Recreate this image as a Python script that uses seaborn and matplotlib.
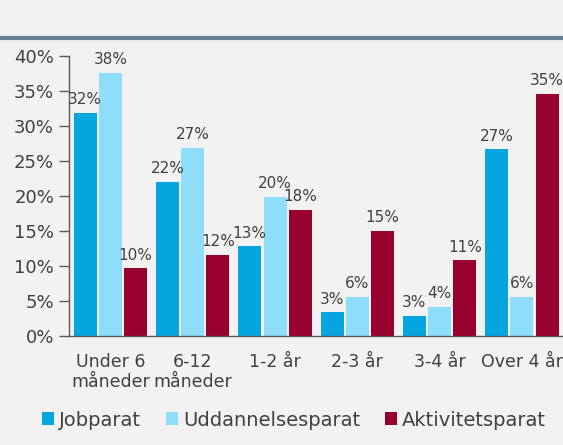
import matplotlib
matplotlib.use("Agg")
import matplotlib.pyplot as plt
import seaborn as sns
import pandas as pd
from matplotlib.patches import Patch
from matplotlib.lines import Line2D

categories = ["Under 6\nmåneder", "6-12\nmåneder", "1-2 år", "2-3 år", "3-4 år", "Over 4 år"]
series_names = ["Jobparat", "Uddannelsesparat", "Aktivitetsparat"]
jobparat = [31.9, 22.0, 12.8, 3.4, 2.9, 26.7]
uddannelsesparat = [37.6, 26.9, 19.9, 5.6, 4.2, 5.6]
aktivitetsparat = [9.7, 11.6, 18.0, 15.0, 10.8, 34.6]
y_ticks = [0, 5, 10, 15, 20, 25, 30, 35, 40]
colors = ["#05A5E0", "#8EDDFB", "#98002E"]

rows = []
for name, vals in zip(series_names, [jobparat, uddannelsesparat, aktivitetsparat]):
    for c, v in zip(categories, vals):
        rows.append({"Kategori": c, "Serie": name, "Andel": v})
df = pd.DataFrame(rows)

sns.set_theme(style="white")
plt.rcParams["font.family"] = ["DejaVu Sans Condensed", "DejaVu Sans"]
txt = "#404040"
bg = "#F2F2F2"

fig = plt.figure(figsize=(5.63, 4.45), dpi=100, facecolor=bg)
ax = fig.add_axes([0.1231, 0.2449, 0.877, 0.6292])
ax.set_facecolor(bg)

sns.barplot(data=df, x="Kategori", y="Andel", hue="Serie", order=categories,
            hue_order=series_names, palette=colors, width=0.92, gap=0.087,
            ax=ax, legend=False, saturation=1, edgecolor="none")

for cont in ax.containers:
    ax.bar_label(cont, fmt="%.0f%%", padding=4, color=txt, fontsize=11)

ax.set_ylim(0, 40)
ax.set_xlim(-0.5, 5.5)
ax.set_yticks(y_ticks)
ax.set_yticklabels([f"{t}%" for t in y_ticks])
ax.set_xlabel("")
ax.set_ylabel("")
ax.set_xticks(range(len(categories)))
ax.set_xticklabels(categories, linespacing=1.15)
ax.set_xticks([i - 0.5 for i in range(len(categories) + 1)], minor=True)
ax.tick_params(axis="x", which="major", length=0, pad=12, labelsize=12.5, colors=txt)
ax.tick_params(axis="x", which="minor", length=6, width=1, color="#595959", direction="out")
ax.tick_params(axis="y", length=7, width=1, color="#595959", pad=4, labelsize=13, colors=txt, left=True)
for s in ["top", "right"]:
    ax.spines[s].set_visible(False)
for s in ["left", "bottom"]:
    ax.spines[s].set_color("#595959")
    ax.spines[s].set_linewidth(1)

handles = [Patch(facecolor=c, edgecolor="none") for c in colors]
fig.legend(handles, series_names, loc="center", bbox_to_anchor=(0.522, 0.056), ncol=3,
           frameon=False, fontsize=14, handlelength=0.62, handleheight=0.62,
           handletextpad=0.25, columnspacing=1.3, labelcolor=txt)

fig.add_artist(Line2D([0, 1], [1 - 37.5 / 445, 1 - 37.5 / 445], transform=fig.transFigure,
                      color="#687F91", linewidth=3))

fig.savefig("out.png", dpi=100, facecolor=bg)
